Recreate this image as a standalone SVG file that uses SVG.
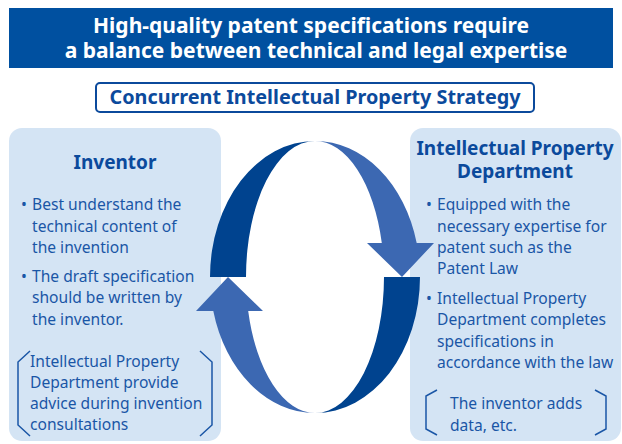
<svg xmlns="http://www.w3.org/2000/svg" width="622" height="444" viewBox="0 0 622 444">
<style>
text{font-family:"Noto Sans","Open Sans","DejaVu Sans",sans-serif}
.hd{fill:#fff;font-weight:bold;font-size:21px;text-anchor:middle}
.sub{fill:#0b4a9c;font-weight:bold;font-size:19.8px;text-anchor:middle}
.ttl{fill:#0b4a9c;font-weight:bold;font-size:19px;text-anchor:middle}
.bd{fill:#1a56a6;font-size:15.6px}
.panel{fill:#d4e4f4}
.br{fill:none;stroke:#1a56a6;stroke-width:1.5}
.dk{fill:#00438f}
.lt{fill:#3c68b2}
</style>
<rect x="0" y="0" width="622" height="444" fill="#fff"/>
<g id="header">
<rect x="9" y="8" width="604" height="60" fill="#0050a0"/>
<text class="hd" x="311" y="33">High-quality patent specifications require</text>
<text class="hd" x="316" y="58">a balance between technical and legal expertise</text>
</g>
<g id="strategy">
<rect x="96" y="83" width="438" height="29" rx="4" fill="#fff" stroke="#0b4a9c" stroke-width="2"/>
<text class="sub" x="315" y="104">Concurrent Intellectual Property Strategy</text>
</g>
<g id="inventor">
<rect class="panel" x="9" y="128" width="212" height="313" rx="13"/>
<text class="ttl" x="115" y="169">Inventor</text>
<text class="bd" x="21" y="210">•</text>
<text class="bd" x="32" y="210">Best understand the</text>
<text class="bd" x="32" y="232">technical content of</text>
<text class="bd" x="32" y="253">the invention</text>
<text class="bd" x="21" y="282">•</text>
<text class="bd" x="32" y="282">The draft specification</text>
<text class="bd" x="32" y="303">should be written by</text>
<text class="bd" x="32" y="325">the inventor.</text>
<polyline class="br" points="30,351 18,362 18,425 30,436"/>
<polyline class="br" points="200,351 212,362 212,425 200,436"/>
<text class="bd" x="30" y="367">Intellectual Property</text>
<text class="bd" x="30" y="388">Department provide</text>
<text class="bd" x="30" y="409">advice during invention</text>
<text class="bd" x="30" y="430">consultations</text>
</g>
<g id="ip-department">
<rect class="panel" x="410" y="128" width="211" height="313" rx="13"/>
<text class="ttl" x="515" y="155">Intellectual Property</text>
<text class="ttl" x="515" y="178">Department</text>
<text class="bd" x="426" y="210">•</text>
<text class="bd" x="437" y="210">Equipped with the</text>
<text class="bd" x="437" y="232">necessary expertise for</text>
<text class="bd" x="437" y="253">patent such as the</text>
<text class="bd" x="437" y="274">Patent Law</text>
<text class="bd" x="426" y="304">•</text>
<text class="bd" x="437" y="304">Intellectual Property</text>
<text class="bd" x="437" y="325">Department completes</text>
<text class="bd" x="437" y="347">specifications in</text>
<text class="bd" x="437" y="368">accordance with the law</text>
<polyline class="br" points="437,390 426,396 426,429 437,435"/>
<polyline class="br" points="595,390 606,396 606,429 595,435"/>
<text class="bd" x="450" y="409">The inventor adds</text>
<text class="bd" x="450" y="431">data, etc.</text>
</g>
<g id="connectors">
<path class="dk" d="M210,277 A105,136 0 0 1 315,141 A69,136 0 0 0 246,277 Z"/>
<path class="lt" d="M315,141 A105,136 0 0 1 416.7,243 L434,243 L402,277 L367,243 L381.8,243 A69,136 0 0 0 315,141 Z"/>
<path class="dk" d="M420,277 A105,136 0 0 1 315,413 A69,136 0 0 0 384,277 Z"/>
<path class="lt" d="M315,413 A105,136 0 0 1 213.3,311 L196,311 L228,277 L263,311 L248.2,311 A69,136 0 0 0 315,413 Z"/>
</g>
</svg>
